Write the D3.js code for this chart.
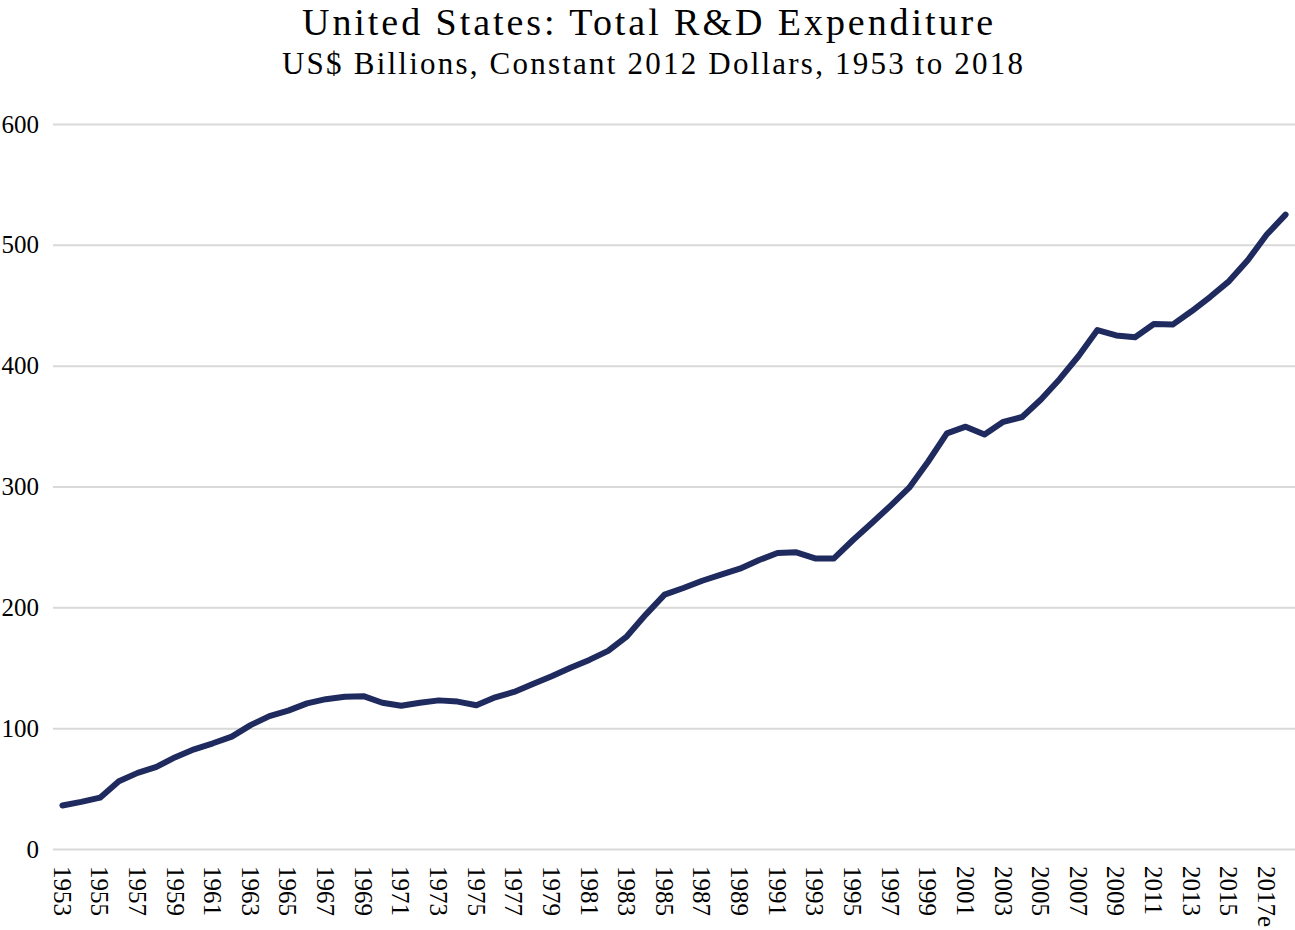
<!DOCTYPE html>
<html>
<head>
<meta charset="utf-8">
<script src="https://cdn.jsdelivr.net/npm/d3@7"></script>
<style>
  html, body { margin: 0; padding: 0; background: #fff; }
  svg { display: block; }
  text { font-family: "Liberation Serif", "DejaVu Serif", serif; fill: #000; }
</style>
</head>
<body>
<svg id="chart" width="1295" height="930"></svg>
<script>
const years = ["1953","1954","1955","1956","1957","1958","1959","1960","1961","1962",
  "1963","1964","1965","1966","1967","1968","1969","1970","1971","1972",
  "1973","1974","1975","1976","1977","1978","1979","1980","1981","1982",
  "1983","1984","1985","1986","1987","1988","1989","1990","1991","1992",
  "1993","1994","1995","1996","1997","1998","1999","2000","2001","2002",
  "2003","2004","2005","2006","2007","2008","2009","2010","2011","2012",
  "2013","2014","2015","2016","2017","2018"];

const rdSpending = [36, 39, 42.5, 56, 63, 68, 76, 82.5, 87.5, 93,
  102.5, 110, 114.5, 120.5, 124, 126, 126.5, 121, 118.5, 121,
  123, 122, 119, 125.5, 130, 136.5, 143, 150, 156.5, 164,
  176, 194, 210.5, 216, 222, 227, 232, 239, 245, 245.5,
  240.5, 240.5, 255.5, 269.5, 284, 299, 320.5, 344, 349.5, 343,
  353.5, 357.5, 372, 389, 408, 429.5, 425, 423.5, 434.5, 434,
  445, 457, 470, 487.5, 508.5, 525];

const xTickLabels = ["1953","1955","1957","1959","1961","1963","1965","1967","1969","1971",
  "1973","1975","1977","1979","1981","1983","1985","1987","1989","1991",
  "1993","1995","1997","1999","2001","2003","2005","2007","2009","2011",
  "2013","2015","2017e"];
const xTickYears = ["1953","1955","1957","1959","1961","1963","1965","1967","1969","1971",
  "1973","1975","1977","1979","1981","1983","1985","1987","1989","1991",
  "1993","1995","1997","1999","2001","2003","2005","2007","2009","2011",
  "2013","2015","2017"];
const yTicks = [0, 100, 200, 300, 400, 500, 600];

const titleText = "United States: Total R&D Expenditure";
const subtitleText = "US$ Billions, Constant 2012 Dollars, 1953 to 2018";

const svg = d3.select("#chart");
const plot = { left: 53, right: 1295, top: 124, bottom: 849 };

const x = d3.scalePoint().domain(years).range([plot.left, plot.right]).padding(0.5);
const y = d3.scaleLinear().domain([0, 600]).range([plot.bottom, plot.top]);

// Title
svg.append("text").attr("x", 647.5).attr("y", 35).attr("text-anchor", "middle")
  .style("font-size", "38px")
  .attr("textLength", 691).attr("lengthAdjust", "spacing")
  .text(titleText);
svg.append("text").attr("x", 652.5).attr("y", 74).attr("text-anchor", "middle")
  .style("font-size", "31px")
  .attr("textLength", 741).attr("lengthAdjust", "spacing")
  .text(subtitleText);

// Y axis with gridlines
const yAxis = d3.axisLeft(y).tickValues(yTicks).tickSize(-(plot.right - plot.left)).tickPadding(14).tickFormat(d3.format("d"));
const gy = svg.append("g").attr("transform", `translate(${plot.left},0)`).call(yAxis);
gy.select(".domain").remove();
gy.selectAll(".tick line").attr("stroke", "#d9d9d9").attr("stroke-width", 2);
gy.selectAll(".tick text").style("font-size", "25px").attr("fill", "#000")
  .attr("x", -14).attr("dy", "0.32em");

// X axis
const labelMap = new Map(xTickYears.map((d, i) => [d, xTickLabels[i]]));
const xAxis = d3.axisBottom(x).tickValues(xTickYears).tickSize(0).tickFormat(d => labelMap.get(d));
const gx = svg.append("g").attr("transform", `translate(0,${plot.bottom})`).call(xAxis);
gx.select(".domain").remove();
gx.selectAll(".tick text")
  .style("font-size", "25px").attr("fill", "#000")
  .attr("text-anchor", "start")
  .attr("transform", "rotate(90)")
  .attr("x", 17).attr("y", 0).attr("dy", "0.37em");

// Line
const line = d3.line().x((d, i) => x(years[i])).y(d => y(d));
svg.append("path").datum(rdSpending)
  .attr("fill", "none").attr("stroke", "#1f2a5e").attr("stroke-width", 6)
  .attr("stroke-linejoin", "round").attr("stroke-linecap", "round")
  .attr("d", line);
</script>
</body>
</html>
